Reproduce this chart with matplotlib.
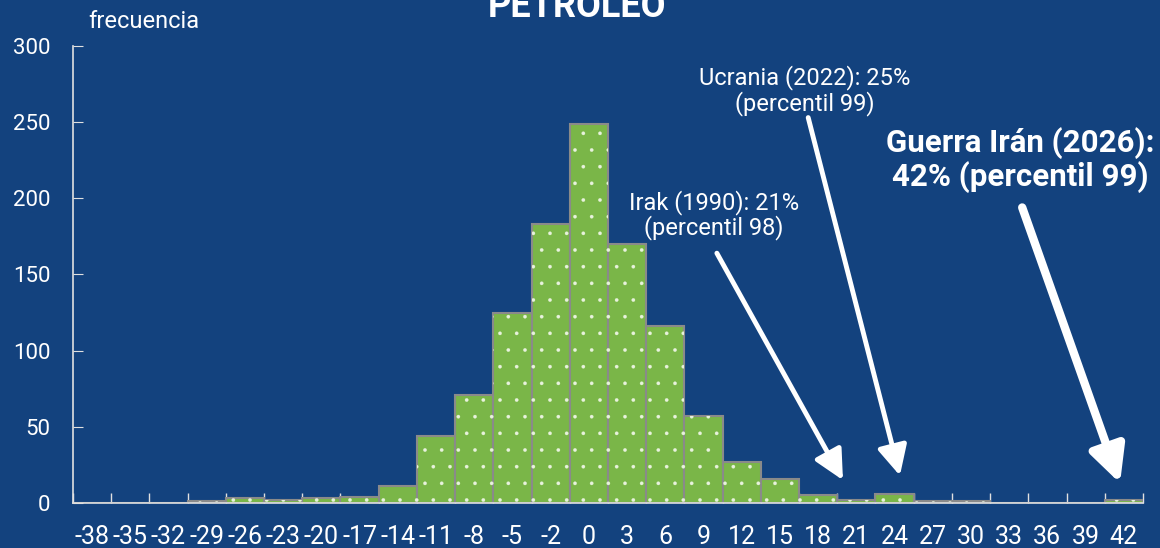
import matplotlib.pyplot as plt
import numpy as np

bg = '#13427e'
green = '#7ab648'

bins = ['-38', '-35', '-32', '-29', '-26', '-23', '-20', '-17', '-14', '-11', '-8', '-5', '-2', '0',
        '3', '6', '9', '12', '15', '18', '21', '24', '27', '30', '33', '36', '39', '42']
freq = [0, 0, 0, 1, 3, 2, 3, 4, 11, 44, 71, 125, 183, 249,
        170, 116, 57, 27, 16, 5, 2, 6, 1, 1, 0, 0, 0, 2]

plt.rcParams['font.family'] = ['Roboto', 'DejaVu Sans']
plt.rcParams['hatch.linewidth'] = 0.2

fig = plt.figure(figsize=(11.6, 5.48), dpi=100, facecolor=bg)
ax = fig.add_axes([0.0629, 0.0821, 0.9224, 0.834], facecolor=bg)

x = np.arange(len(bins))
ax.bar(x, freq, width=1.0, color=green, edgecolor='#8a8a8a', linewidth=1.5, zorder=2)
ax.bar(x, freq, width=1.0, color='none', edgecolor='#e8f2dd', hatch='.', linewidth=0, zorder=3)

ax.set_xlim(-0.5, len(bins) - 0.5)
ax.set_ylim(0, 300)
ax.set_yticks(range(0, 301, 50))
ax.set_xticks(x)
ax.set_xticklabels(bins)
ax.set_xticks(np.arange(len(bins) + 1) - 0.5, minor=True)
ax.tick_params(axis='x', which='major', length=0, pad=16, labelsize=18, colors='white')
ax.tick_params(axis='x', which='minor', direction='in', length=7, color='#e0e0e0', width=1)
ax.tick_params(axis='y', direction='in', length=7, color='#e0e0e0', labelsize=16, pad=16)
ax.tick_params(axis='y', colors='#e0e0e0', labelcolor='white')

for s in ['top', 'right']:
    ax.spines[s].set_visible(False)
for s in ['left', 'bottom']:
    ax.spines[s].set_color('#e0e0e0')
    ax.spines[s].set_linewidth(1.2)
    ax.spines[s].set_zorder(4)

fig.text(88 / 1160, 1 - 22 / 548, 'frecuencia', color='white', fontsize=17, va='center', ha='left')
fig.text(577 / 1160, 1 - 17 / 548, 'PETRÓLEO', color='white', fontsize=26, fontweight='bold',
         ha='center', va='baseline')

# annotations
ax.annotate('', xy=(19.65, 15), xytext=(16.35, 164),
            arrowprops=dict(arrowstyle='-|>,head_length=0.9,head_width=0.45', color='white', lw=3.5,
                            mutation_scale=20, shrinkA=0, shrinkB=0))
ax.text(16.28, 189, 'Irak (1990): 21%\n(percentil 98)', color='white', fontsize=17,
        ha='center', va='center', linespacing=1.05)

ax.annotate('', xy=(21.14, 18), xytext=(18.74, 253),
            arrowprops=dict(arrowstyle='-|>,head_length=0.9,head_width=0.45', color='white', lw=3.5,
                            mutation_scale=20, shrinkA=0, shrinkB=0))
ax.text(18.66, 271, 'Ucrania (2022): 25%\n(percentil 99)', color='white', fontsize=17,
        ha='center', va='center', linespacing=1.05)

ax.annotate('', xy=(26.9, 13), xytext=(24.34, 194),
            arrowprops=dict(arrowstyle='-|>,head_length=0.9,head_width=0.45', color='white', lw=6,
                            mutation_scale=24, shrinkA=0, shrinkB=0))
ax.text(24.28, 225, 'Guerra Irán (2026):\n42% (percentil 99)', color='white', fontsize=22.5,
        fontweight='bold', ha='center', va='center', linespacing=1.1)

fig.savefig('out.png', dpi=100, facecolor=bg)
